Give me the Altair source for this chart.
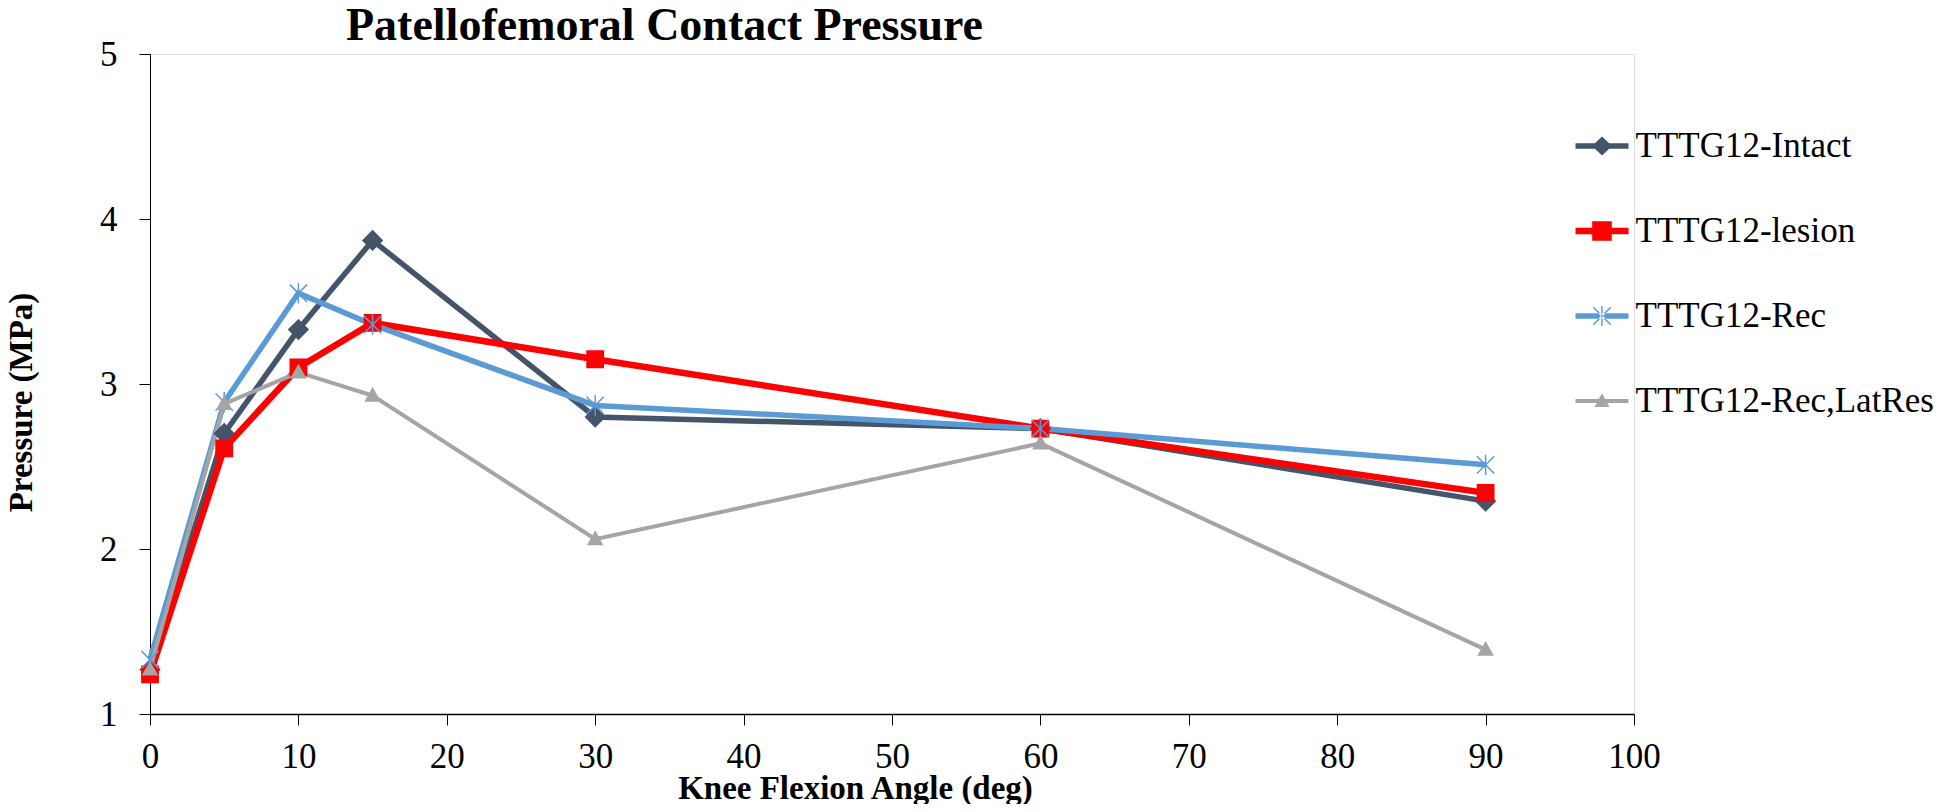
import altair as alt
import pandas as pd

# ---------------- data ----------------
angles = [0, 5, 10, 15, 30, 60, 90]
series_names = ["TTTG12-Intact", "TTTG12-lesion", "TTTG12-Rec", "TTTG12-Rec,LatRes"]
intact = [1.27, 2.70, 3.33, 3.87, 2.80, 2.73, 2.29]
lesion = [1.24, 2.61, 3.10, 3.37, 3.15, 2.73, 2.34]
rec = [1.33, 2.89, 3.55, 3.36, 2.87, 2.73, 2.51]
latres = [1.27, 2.88, 3.07, 2.93, 2.06, 2.64, 1.39]
x_ticks = list(range(0, 101, 10))
y_ticks = [1, 2, 3, 4, 5]

rows = []
for name, vals in zip(series_names, [intact, lesion, rec, latres]):
    for a, v in zip(angles, vals):
        rows.append({"angle": a, "pressure": v, "series": name})
df = pd.DataFrame(rows)

# ---------------- styles ----------------
colors = ["#44546A", "#FF0000", "#5B9BD5", "#A5A5A5"]
line_widths = [5.5, 6.5, 5.5, 4]

# marker paths for data points (unit = 12 px with size 576)
m_diamond = "M0,-0.8L0.8,0L0,0.8L-0.8,0Z"
m_square = "M-0.68,-0.68L0.68,-0.68L0.68,0.68L-0.68,0.68Z"
m_star = "M0,-0.85L0,0.85M-0.72,-0.72L0.72,0.72M-0.72,0.72L0.72,-0.72"
m_tri = "M0,-0.6L0.58,0.45L-0.58,0.45Z"


# legend symbols: horizontal bar + marker, fill only (unit = 26.5 px, size 2809)
def bar(t):
    return f"M-1,-{t}L1,-{t}L1,{t}L-1,{t}Z"


def thin(x1, y1, x2, y2, t):
    dx, dy = x2 - x1, y2 - y1
    n = (dx * dx + dy * dy) ** 0.5
    nx, ny = -dy / n * t, dx / n * t
    pts = [(x1 + nx, y1 + ny), (x2 + nx, y2 + ny), (x2 - nx, y2 - ny), (x1 - nx, y1 - ny)]
    return "M" + "L".join(f"{px:.3f},{py:.3f}" for px, py in pts) + "Z"


star_legend = (
    thin(0, -0.38, 0, 0.38, 0.028)
    + thin(-0.33, -0.33, 0.33, 0.33, 0.028)
    + thin(-0.33, 0.33, 0.33, -0.33, 0.028)
)
l_paths = [
    bar(0.1) + "M0,-0.36L0.38,0L0,0.36L-0.38,0Z",
    bar(0.12) + "M-0.37,-0.37L0.37,-0.37L0.37,0.37L-0.37,0.37Z",
    bar(0.105) + star_legend,
    bar(0.08) + "M0,-0.29L0.28,0.23L-0.28,0.23Z",
]

marker_expr = (
    f"datum.series === '{series_names[0]}' ? '{m_diamond}' : "
    f"datum.series === '{series_names[1]}' ? '{m_square}' : "
    f"datum.series === '{series_names[2]}' ? '{m_star}' : '{m_tri}'"
)

FONT = "Liberation Serif"
color_scale = alt.Scale(domain=series_names, range=colors)

x_enc = alt.X(
    "angle:Q",
    scale=alt.Scale(domain=[0, 100], nice=False, zero=False),
    axis=alt.Axis(
        values=x_ticks, grid=False, tickSize=11, tickWidth=1, tickColor="black",
        domainColor="black", domainWidth=1.5, labelFont=FONT, labelFontSize=35,
        labelColor="black", labelPadding=14, labelFlush=False, labelOverlap=False,
        title="Knee Flexion Angle (deg)", titleFont=FONT, titleFontSize=33,
        titleFontWeight="bold", titleColor="black", titleX=705, titleY=84,
        titleBaseline="alphabetic", titleAlign="center",
    ),
)
y_enc = alt.Y(
    "pressure:Q",
    scale=alt.Scale(domain=[1, 5], nice=False, zero=False),
    axis=alt.Axis(
        values=y_ticks, grid=False, tickSize=11, tickWidth=1, tickColor="black",
        domainColor="black", domainWidth=1, labelFont=FONT, labelFontSize=35,
        labelColor="black", labelPadding=22, labelFlush=False,
        title="Pressure (MPa)", titleFont=FONT, titleFontSize=33,
        titleFontWeight="bold", titleColor="black", titleX=-129, titleY=348,
        titleBaseline="middle", titleAlign="center", titleAngle=270,
    ),
)

base = alt.Chart(df)

leg = dict(
    orient="none", legendX=1425.5, legendY=65.5, title=None,
    symbolSize=2809, symbolStrokeWidth=0,
    labelFont=FONT, labelFontSize=35, labelColor="black", labelOffset=7,
    labelLimit=500, rowPadding=40, padding=0,
)

# invisible layer that only carries the legend (listed first so its legend wins)
legend_layer = base.mark_point(filled=True, opacity=1, size=0).encode(
    x=x_enc,
    y=y_enc,
    color=alt.Color("series:N", scale=color_scale, legend=alt.Legend(**leg)),
    shape=alt.Shape("series:N", scale=alt.Scale(domain=series_names, range=l_paths),
                    legend=alt.Legend(**leg)),
)

lines = base.mark_line(opacity=1).encode(
    x=x_enc,
    y=y_enc,
    color=alt.Color("series:N", scale=color_scale, legend=None),
    strokeWidth=alt.StrokeWidth(
        "series:N",
        scale=alt.Scale(type="ordinal", domain=series_names, range=line_widths),
        legend=None,
    ),
    order=alt.Order("angle:Q"),
)

points = base.transform_calculate(marker=marker_expr).mark_point(
    filled=True, opacity=1, size=576, strokeWidth=1.5
).encode(
    x=x_enc,
    y=y_enc,
    shape=alt.Shape("marker:N", scale=None),
    fill=alt.Fill("series:N", scale=color_scale, legend=None),
    stroke=alt.Stroke("series:N", scale=color_scale, legend=None),
)

chart = (
    alt.layer(legend_layer, lines, points)
    .resolve_scale(fill="independent", stroke="independent", strokeWidth="independent")
    .resolve_legend(fill="independent", stroke="independent", strokeWidth="independent")
    .properties(
        width=1484,
        height=660,
        autosize=alt.AutoSizeParams(type="none"),
        padding={"left": 142, "top": 46, "right": 300, "bottom": 90},
        title=alt.TitleParams(
            "Patellofemoral Contact Pressure", anchor="start", frame="group",
            dx=196, dy=13, font=FONT, fontSize=46, fontWeight="bold", color="black",
            offset=0,
        ),
    )
    .configure_view(stroke=None)
    .configure(background="white")
)

chart.save("out.html", embed_options={"renderer": "svg", "actions": False})
